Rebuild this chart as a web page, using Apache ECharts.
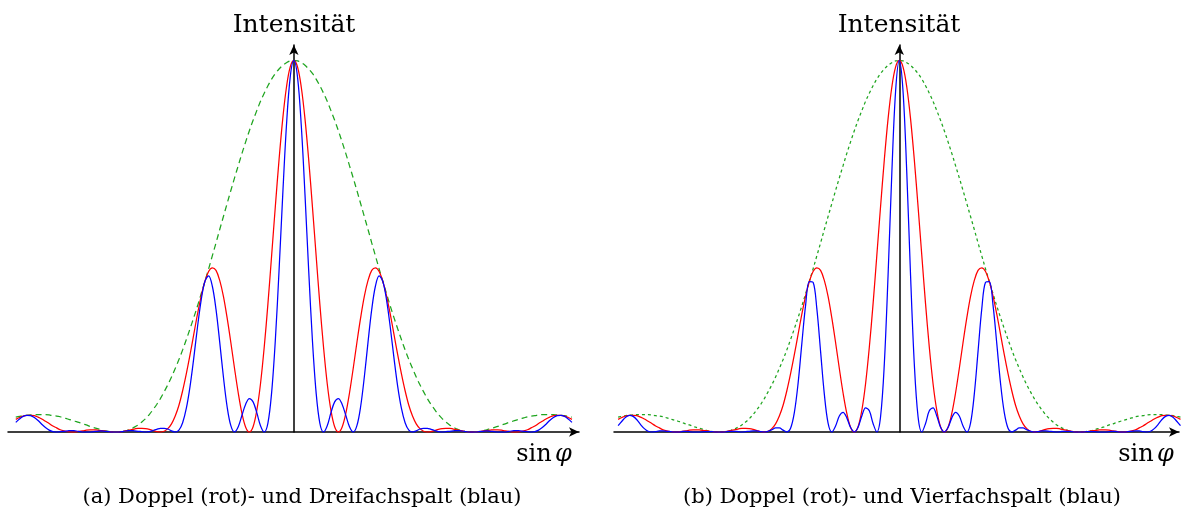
<!DOCTYPE html>
<html>
<head>
<meta charset="utf-8">
<script src="https://cdn.jsdelivr.net/npm/echarts@6/dist/echarts.min.js"></script>
<style>
html,body{margin:0;padding:0;background:#fff;}
#chart{width:1185px;height:515px;}
</style>
</head>
<body>
<div id="chart"></div>
<script>
// sin(phi) sample positions, in units of 1/24 of the fringe spacing (lambda/d)
const sinPhi = [-75,-74,-73,-72,-71,-70,-69,-68,-67,-66,-65,-64,-63,-62,-61,-60,-59,-58,-57,-56,-55,-54,-53,-52,-51,-50,-49,-48,-47,-46,-45,-44,-43,-42,-41,-40,-39,-38,-37,-36,-35,-34,-33,-32,-31,-30,-29,-28,-27,-26,-25,-24,-23,-22,-21,-20,-19,-18,-17,-16,-15,-14,-13,-12,-11,-10,-9,-8,-7,-6,-5,-4,-3,-2,-1,0,1,2,3,4,5,6,7,8,9,10,11,12,13,14,15,16,17,18,19,20,21,22,23,24,25,26,27,28,29,30,31,32,33,34,35,36,37,38,39,40,41,42,43,44,45,46,47,48,49,50,51,52,53,54,55,56,57,58,59,60,61,62,63,64,65,66,67,68,69,70,71,72,73,74,75];

// single-slit envelope (green, dashed)
const envelope = [0.040,0.042,0.044,0.045,0.046,0.047,0.047,0.047,0.047,0.046,0.044,0.043,0.041,0.038,0.035,0.032,0.029,0.026,0.022,0.019,0.015,0.012,0.009,0.006,0.003,0.002,0.000,0.000,0.000,0.002,0.004,0.008,0.013,0.019,0.027,0.036,0.047,0.060,0.074,0.090,0.108,0.127,0.148,0.171,0.195,0.221,0.249,0.278,0.308,0.339,0.372,0.405,0.439,0.474,0.509,0.545,0.580,0.615,0.650,0.684,0.717,0.750,0.781,0.811,0.839,0.865,0.890,0.912,0.932,0.950,0.965,0.977,0.987,0.994,0.999,
1.000,0.999,0.994,0.987,0.977,0.965,0.950,0.932,0.912,0.890,0.865,0.839,0.811,0.781,0.750,0.717,0.684,0.650,0.615,0.580,0.545,0.509,0.474,0.439,0.405,0.372,0.339,0.308,0.278,0.249,0.221,0.195,0.171,0.148,0.127,0.108,0.090,0.074,0.060,0.047,0.036,0.027,0.019,0.013,0.008,0.004,0.002,0.000,0.000,0.000,0.002,0.003,0.006,0.009,0.012,0.015,0.019,0.022,0.026,0.029,0.032,0.035,0.038,0.041,0.043,0.044,0.046,0.047,0.047,0.047,0.047,0.046,0.045,0.044,0.042,0.040];

// double slit (red)
const doppel = [0.034,0.039,0.043,0.045,0.045,0.044,0.040,0.035,0.029,0.023,0.016,0.011,0.006,0.003,0.001,0.000,0.000,0.002,0.003,0.005,0.006,0.006,0.005,0.004,0.003,0.001,0.000,0.000,0.000,0.002,0.004,0.006,0.008,0.010,0.010,0.009,0.007,0.004,0.001,0.000,0.002,0.009,0.022,0.043,0.072,0.111,0.157,0.208,0.263,0.317,0.366,0.405,0.432,0.442,0.435,0.408,0.365,0.307,0.241,0.171,0.105,0.050,0.013,0.000,0.014,0.058,0.130,0.228,0.345,0.475,0.607,0.733,0.843,0.928,0.982,
1.000,0.982,0.928,0.843,0.733,0.607,0.475,0.345,0.228,0.130,0.058,0.014,0.000,0.013,0.050,0.105,0.171,0.241,0.307,0.365,0.408,0.435,0.442,0.432,0.405,0.366,0.317,0.263,0.208,0.157,0.111,0.072,0.043,0.022,0.009,0.002,0.000,0.001,0.004,0.007,0.009,0.010,0.010,0.008,0.006,0.004,0.002,0.000,0.000,0.000,0.001,0.003,0.004,0.005,0.006,0.006,0.005,0.003,0.002,0.000,0.000,0.001,0.003,0.006,0.011,0.016,0.023,0.029,0.035,0.040,0.044,0.045,0.045,0.043,0.039,0.034];

// triple slit (blue, panel a)
const dreifach = [0.026,0.035,0.042,0.045,0.044,0.039,0.031,0.021,0.012,0.005,0.001,0.000,0.001,0.002,0.003,0.004,0.003,0.002,0.000,0.000,0.000,0.001,0.002,0.003,0.002,0.001,0.000,0.000,0.000,0.002,0.003,0.004,0.003,0.002,0.001,0.000,0.001,0.004,0.007,0.010,0.010,0.008,0.003,0.000,0.005,0.025,0.064,0.123,0.199,0.282,0.355,0.405,0.420,0.393,0.330,0.242,0.148,0.068,0.017,0.000,0.014,0.045,0.075,0.090,0.081,0.052,0.017,0.000,0.024,0.106,0.247,0.434,0.639,0.825,0.954,
1.000,0.954,0.825,0.639,0.434,0.247,0.106,0.024,0.000,0.017,0.052,0.081,0.090,0.075,0.045,0.014,0.000,0.017,0.068,0.148,0.242,0.330,0.393,0.420,0.405,0.355,0.282,0.199,0.123,0.064,0.025,0.005,0.000,0.003,0.008,0.010,0.010,0.007,0.004,0.001,0.000,0.001,0.002,0.003,0.004,0.003,0.002,0.000,0.000,0.000,0.001,0.002,0.003,0.002,0.001,0.000,0.000,0.000,0.002,0.003,0.004,0.003,0.002,0.001,0.000,0.001,0.005,0.012,0.021,0.031,0.039,0.044,0.045,0.042,0.035,0.026];

// quadruple slit (blue, panel b)
const vierfach = [0.017,0.029,0.040,0.045,0.042,0.033,0.020,0.009,0.002,0.000,0.001,0.003,0.003,0.002,0.001,0.000,0.000,0.001,0.002,0.001,0.000,0.000,0.000,0.001,0.001,0.001,0.000,0.000,0.000,0.001,0.002,0.002,0.001,0.000,0.001,0.002,0.003,0.003,0.001,0.000,0.002,0.006,0.011,0.011,0.005,0.000,0.010,0.052,0.131,0.238,0.341,0.405,0.403,0.332,0.217,0.102,0.024,0.000,0.016,0.043,0.053,0.038,0.012,0.000,0.013,0.043,0.065,0.057,0.023,0.000,0.041,0.183,0.421,0.696,0.916,
1.000,0.916,0.696,0.421,0.183,0.041,0.000,0.023,0.057,0.065,0.043,0.013,0.000,0.012,0.038,0.053,0.043,0.016,0.000,0.024,0.102,0.217,0.332,0.403,0.405,0.341,0.238,0.131,0.052,0.010,0.000,0.005,0.011,0.011,0.006,0.002,0.000,0.001,0.003,0.003,0.002,0.001,0.000,0.001,0.002,0.002,0.001,0.000,0.000,0.000,0.001,0.001,0.001,0.000,0.000,0.000,0.001,0.002,0.001,0.000,0.000,0.001,0.002,0.003,0.003,0.001,0.000,0.002,0.009,0.020,0.033,0.042,0.045,0.040,0.029,0.017];

const yAxisLabel = 'Intensität';
const xAxisLabel = 'sin φ';
const captions = ['(a) Doppel (rot)- und Dreifachspalt (blau)', '(b) Doppel (rot)- und Vierfachspalt (blau)'];

const pairs = vals => sinPhi.map((x, i) => [x, vals[i]]);

const SERIF = '"DejaVu Serif", "Liberation Serif", serif';
const GREEN = '#1fa51f';

function axisX(idx, min, max) {
  return {
    type: 'value', gridIndex: idx, min: min, max: max,
    axisLine: { show: true, onZero: true, symbol: ['none', 'arrow'], symbolSize: [7, 10],
      lineStyle: { color: '#000', width: 1.5 } },
    axisTick: { show: false }, axisLabel: { show: false }, splitLine: { show: false }
  };
}
function axisY(idx) {
  return {
    type: 'value', gridIndex: idx, min: 0, max: 1.0417,
    axisLine: { show: true, onZero: true, symbol: ['none', 'arrow'], symbolSize: [7, 10],
      lineStyle: { color: '#000', width: 1.5 } },
    axisTick: { show: false }, axisLabel: { show: false }, splitLine: { show: false }
  };
}
function line(idx, vals, color, dash, z) {
  return {
    type: 'line', xAxisIndex: idx, yAxisIndex: idx, data: pairs(vals),
    showSymbol: false, smooth: 0.35, silent: true, z: z,
    lineStyle: { color: color, width: 1.25, type: dash || 'solid' }
  };
}

const chart = echarts.init(document.getElementById('chart'), null, { renderer: 'canvas' });
chart.setOption({
  animation: false,
  backgroundColor: '#fff',
  grid: [
    { left: 8, top: 45, width: 571, height: 387 },
    { left: 614, top: 45, width: 565, height: 387 }
  ],
  xAxis: [axisX(0, -77.1, 76.9), axisX(1, -76.1, 74.6)],
  yAxis: [axisY(0), axisY(1)],
  series: [
    line(0, envelope, GREEN, [6, 4], 2),
    line(0, doppel, '#ff0000', null, 3),
    line(0, dreifach, '#0000ff', null, 4),
    line(1, envelope, GREEN, [3, 3], 2),
    line(1, doppel, '#ff0000', null, 3),
    line(1, vierfach, '#0000ff', null, 4)
  ],
  graphic: [
    { type: 'text', x: 294, y: 25, style: { text: yAxisLabel, font: '25px ' + SERIF, fill: '#000', textAlign: 'center', textVerticalAlign: 'middle' } },
    { type: 'text', x: 899, y: 25, style: { text: yAxisLabel, font: '25px ' + SERIF, fill: '#000', textAlign: 'center', textVerticalAlign: 'middle' } },
    { type: 'text', x: 544, y: 455, style: { text: '{a|sin} {b|φ}', fill: '#000', textAlign: 'center', textVerticalAlign: 'middle',
      rich: { a: { font: '24px ' + SERIF }, b: { font: 'italic 24px ' + SERIF } } } },
    { type: 'text', x: 1146, y: 455, style: { text: '{a|sin} {b|φ}', fill: '#000', textAlign: 'center', textVerticalAlign: 'middle',
      rich: { a: { font: '24px ' + SERIF }, b: { font: 'italic 24px ' + SERIF } } } },
    { type: 'text', x: 302, y: 498, style: { text: captions[0], font: '21px ' + SERIF, fill: '#000', textAlign: 'center', textVerticalAlign: 'middle' } },
    { type: 'text', x: 902, y: 498, style: { text: captions[1], font: '21px ' + SERIF, fill: '#000', textAlign: 'center', textVerticalAlign: 'middle' } }
  ]
});
</script>
</body>
</html>
